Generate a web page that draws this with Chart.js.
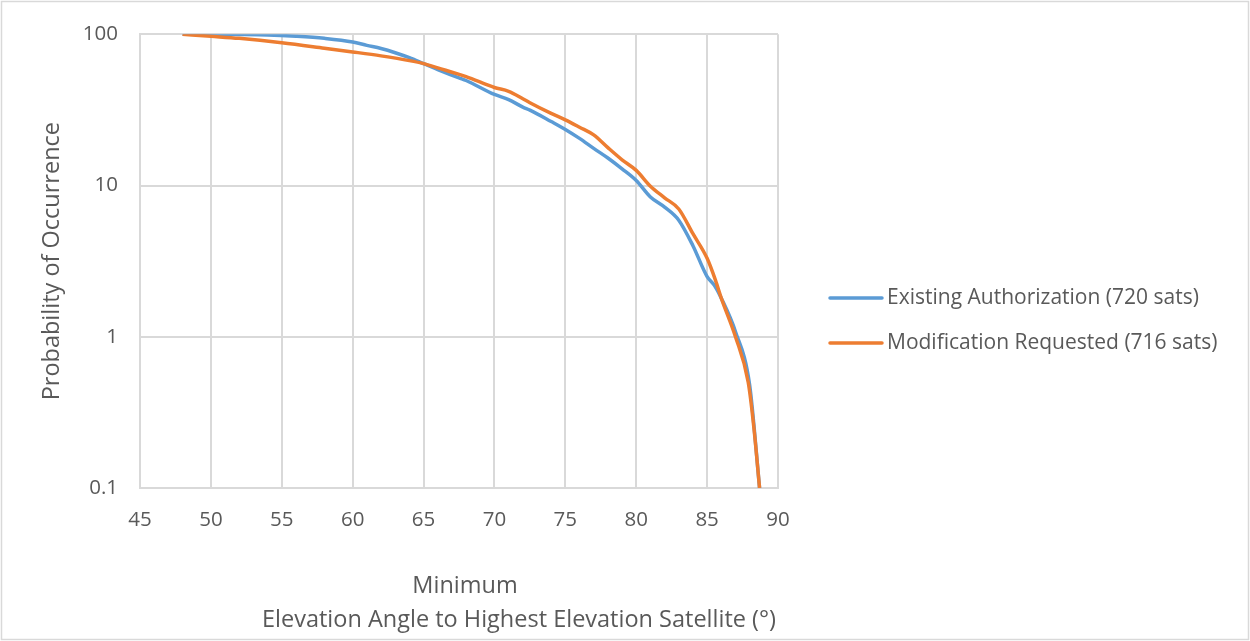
<!DOCTYPE html>
<html>
<head>
<meta charset="utf-8">
<title>Probability of Occurrence vs Minimum Elevation Angle</title>
<script src="https://cdn.jsdelivr.net/npm/chart.js@4.4.1/dist/chart.umd.min.js"></script>
<style>
  html, body { margin: 0; padding: 0; background: #ffffff; }
  #c { display: block; }
</style>
</head>
<body>
<canvas id="c" width="1250" height="641"></canvas>
<script>
// Minimum elevation angle (deg) vs probability (%) for each constellation
const existingAngles = [48, 50, 52, 54, 56, 58, 60, 61, 62, 63, 64, 65, 66, 67.5, 68, 70, 71, 72, 72.5, 74, 75, 76, 77, 78, 79, 80, 81, 82, 83, 84, 85, 85.5, 86, 87, 88, 88.7];
const existingProb   = [100, 100, 99.7, 99, 97, 94, 89, 84.5, 80.5, 75.5, 70, 64, 58.5, 51.5, 49.5, 40, 37, 33, 31.5, 26.5, 23.5, 20.5, 17.6, 15.2, 12.9, 10.8, 8.4, 7.2, 5.9, 4.0, 2.5, 2.2, 1.8, 1.08, 0.48, 0.1];

const modifiedAngles = [48, 50, 52, 55, 58, 60, 62, 64, 65, 66, 68, 70, 71, 72, 72.5, 74, 75, 76, 77, 78, 79, 80, 81, 82, 83, 84, 85, 85.6, 86, 87, 87.9, 88.3, 88.7];
const modifiedProb   = [100, 97, 94, 88, 81, 76.5, 72, 67, 64, 60, 52.5, 44.5, 42, 37.5, 35.3, 30, 27.2, 24.3, 21.6, 17.8, 14.8, 12.6, 9.9, 8.3, 7.0, 4.8, 3.3, 2.35, 1.8, 1.0, 0.5, 0.25, 0.1];

const seriesNames  = ['Existing Authorization (720 sats)', 'Modification Requested (716 sats)'];
const seriesColors = ['#5B9BD5', '#ED7D31'];

const xTickValues = [45, 50, 55, 60, 65, 70, 75, 80, 85, 90];
const yTickValues = [0.1, 1, 10, 100];

const yTitle = 'Probability of Occurrence';
const xTitleLines = ['Minimum', 'Elevation Angle to Highest Elevation Satellite (°)'];

const FONT = '"Open Sans", "Noto Sans", sans-serif';
const TEXT = '#595959';
const GRID = '#d9d9d9';

const toPoints = (xs, ys) => xs.map((x, i) => ({ x: x, y: ys[i] }));

// frame, two-line x title and the legend at the right
const decorations = {
  id: 'decorations',
  beforeDraw(chart) {
    const ctx = chart.ctx;
    ctx.save();
    ctx.fillStyle = '#ffffff';
    ctx.fillRect(0, 0, chart.width, chart.height);
    ctx.restore();
  },
  afterDraw(chart) {
    const ctx = chart.ctx;
    const a = chart.chartArea;
    const mid = (a.left + a.right) / 2;
    ctx.save();
    // outer frame
    ctx.strokeStyle = GRID;
    ctx.lineWidth = 1.5;
    ctx.strokeRect(1.5, 1.5, chart.width - 3, chart.height - 3);

    // x axis title
    ctx.fillStyle = TEXT;
    ctx.font = '23.5px ' + FONT;
    ctx.textAlign = 'center';
    ctx.textBaseline = 'middle';
    ctx.fillText(xTitleLines[0], mid + 6, a.bottom + 98);
    ctx.fillText(xTitleLines[1], mid + 60, a.bottom + 132);

    // legend
    ctx.font = '21px ' + FONT;
    ctx.textAlign = 'left';
    const rowY = [chart.height / 2 - 22.5, chart.height / 2 + 22.5];
    chart.data.datasets.forEach((ds, i) => {
      const x0 = a.right + 52;
      ctx.strokeStyle = ds.borderColor;
      ctx.lineWidth = 3.5;
      ctx.lineCap = 'round';
      ctx.beginPath();
      ctx.moveTo(x0, rowY[i]);
      ctx.lineTo(x0 + 52, rowY[i]);
      ctx.stroke();
      ctx.fillStyle = TEXT;
      ctx.fillText(ds.label, x0 + 57, rowY[i]);
    });
    ctx.restore();
  }
};

new Chart(document.getElementById('c'), {
  type: 'line',
  data: {
    datasets: [
      {
        label: seriesNames[0],
        data: toPoints(existingAngles, existingProb),
        borderColor: seriesColors[0],
        backgroundColor: seriesColors[0],
        borderWidth: 3.5,
        pointRadius: 0,
        cubicInterpolationMode: 'monotone',
        fill: false,
        order: 1
      },
      {
        label: seriesNames[1],
        data: toPoints(modifiedAngles, modifiedProb),
        borderColor: seriesColors[1],
        backgroundColor: seriesColors[1],
        borderWidth: 3.5,
        pointRadius: 0,
        cubicInterpolationMode: 'monotone',
        fill: false,
        order: 0
      }
    ]
  },
  options: {
    responsive: false,
    animation: false,
    devicePixelRatio: 1,
    layout: { padding: { top: 32, right: 472, left: 0, bottom: 0 } },
    plugins: {
      legend: { display: false },
      tooltip: { enabled: false }
    },
    scales: {
      x: {
        type: 'linear',
        min: 45,
        max: 90,
        afterBuildTicks: s => { s.ticks = xTickValues.map(v => ({ value: v })); },
        afterFit: s => { s.height = 153; },
        grid: { color: GRID, lineWidth: 2, drawTicks: false },
        border: { color: GRID, width: 2 },
        ticks: {
          color: TEXT,
          font: { family: FONT, size: 20.5 },
          padding: 20,
          maxRotation: 0,
          callback: v => String(v)
        }
      },
      y: {
        type: 'logarithmic',
        min: 0.1,
        max: 100,
        afterBuildTicks: s => { s.ticks = yTickValues.map(v => ({ value: v })); },
        afterFit: s => { s.width = 140; },
        grid: { color: GRID, lineWidth: 2, drawTicks: false },
        border: { color: GRID, width: 2 },
        ticks: {
          color: TEXT,
          font: { family: FONT, size: 20.5 },
          padding: 22,
          callback: v => String(v)
        },
        title: {
          display: true,
          text: yTitle,
          color: TEXT,
          font: { family: FONT, size: 23.5 },
          padding: { top: 38, bottom: 0 }
        }
      }
    }
  },
  plugins: [decorations]
});
</script>
</body>
</html>
